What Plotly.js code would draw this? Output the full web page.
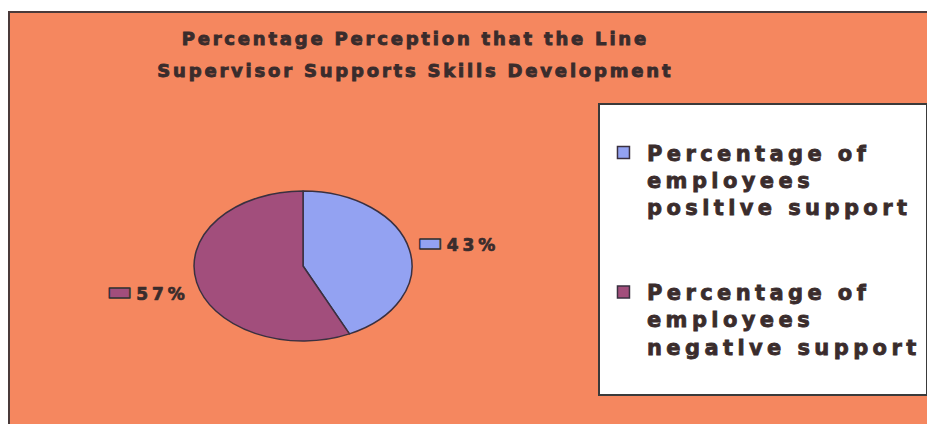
<!DOCTYPE html>
<html><head><meta charset="utf-8">
<script src="https://cdn.plot.ly/plotly-3.0.1.min.js"></script>
<style>
html,body{margin:0;padding:0;background:#fff;width:927px;height:424px;overflow:hidden}
#wrap{position:absolute;left:8px;top:11px;width:919px;height:413px;border-top:2px solid #4a3a3a;border-left:2px solid #4a3a3a;box-sizing:border-box}
#chart{width:917px;height:411px}
.gtitle{letter-spacing:2.8px;stroke:#3a2c2c;stroke-width:0.9px}
.legendtext{letter-spacing:4.4px;stroke:#3a2c2c;stroke-width:0.8px}
.slicetext{letter-spacing:4px;stroke:#3a2c2c;stroke-width:0.7px}
</style></head><body>
<div id="wrap"><div id="chart"></div></div>
<script>
// ---- data ----
const categories = [
  'Percentage of<br>employees<br>positive support<br> <br> ',
  'Percentage of<br>employees<br>negative support<br> '
];
const shares = [43, 57];
const sliceColors = ['#93A2F2', '#A24E7C'];
const titleLines = ['Percentage Perception that the Line', 'Supervisor Supports Skills Development'];

const bg = '#F5875F';
const ink = '#3a2c2c';

const data = [{
  type: 'pie',
  labels: categories,
  values: shares,
  sort: false,
  direction: 'clockwise',
  rotation: 0,
  marker: {colors: sliceColors, line: {color: '#3a3040', width: 1.5}},
  textposition: 'outside',
  texttemplate: sliceColors.map(c => '<span style="font-size:27px;color:' + c + ';stroke:#333;stroke-width:1.5px">▬</span>%{percent}'),
  textfont: {family: 'DejaVu Sans', size: 17, color: ink, weight: 'bold'},
  hoverinfo: 'none',
  domain: {x: [0.2007, 0.4384], y: [0.1192, 0.6496]}
}];

const layout = {
  width: 917, height: 411,
  paper_bgcolor: bg, plot_bgcolor: bg,
  margin: {l: 0, r: 0, t: 0, b: 0, autoexpand: false},
  title: {
    text: titleLines.map(t => '<span style="font-size:18px">' + t + '</span>').join('<br>'),
    font: {family: 'DejaVu Sans', size: 24, color: ink, weight: 'bold'},
    xref: 'container', yref: 'container', x: 0.442, y: 0.921, xanchor: 'center', yanchor: 'top'
  },
  showlegend: true,
  legend: {
    xref: 'container', yref: 'container', x: 0.6412, y: 0.781, xanchor: 'left', yanchor: 'top',
    maxheight: 400, itemwidth: 37,
    bgcolor: '#ffffff', bordercolor: '#3a3a3a', borderwidth: 2,
    font: {family: 'DejaVu Sans', size: 21, color: ink, weight: 'bold'},
    valign: 'top',
    title: {text: '\u00a0', font: {size: 21}}
  }
};

Plotly.newPlot('chart', data, layout, {staticPlot: true}).then(gd => {
  const s = 75 / 109;
  const paths = gd.querySelectorAll('.pielayer path.surface');
  let top = Infinity, bot = -Infinity;
  paths.forEach(p => { const b = p.getBBox(); top = Math.min(top, b.y); bot = Math.max(bot, b.y + b.height); });
  const cy = (top + bot) / 2;
  paths.forEach(p => {
    p.setAttribute('transform', 'translate(0,' + (cy * (1 - s)) + ') scale(1,' + s + ')');
    p.style.vectorEffect = 'non-scaling-stroke';
  });
});
</script>
</body></html>
